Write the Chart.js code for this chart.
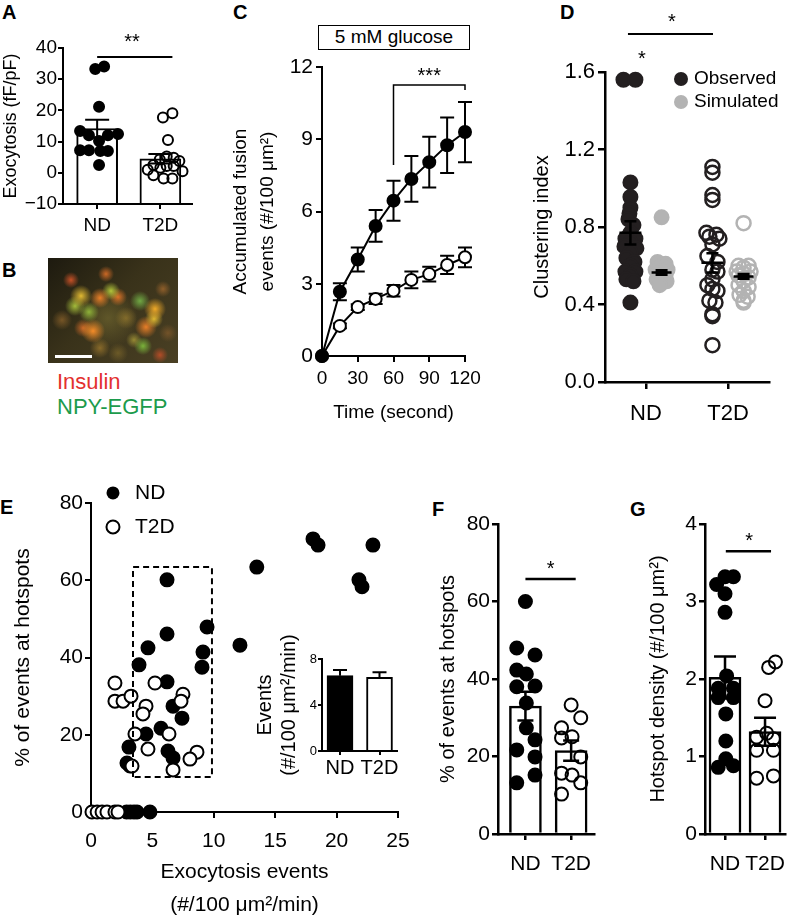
<!DOCTYPE html>
<html><head><meta charset="utf-8">
<script src="https://cdn.jsdelivr.net/npm/chart.js@4.4.1/dist/chart.umd.min.js"></script>
<style>
html,body{margin:0;padding:0;background:#fff;}
#fig{position:relative;width:799px;height:919px;overflow:hidden;font-family:'Liberation Sans',Arial,sans-serif;color:#000;background:#fff;}
#fig canvas{position:absolute;}
.pl{position:absolute;font-weight:bold;font-size:20px;line-height:20px;}
#micro{position:absolute;left:48px;top:258px;width:130px;height:105px;
background:
radial-gradient(circle at 23px 22px, rgba(215,85,40,.9) 0, rgba(215,85,40,0) 8px),
radial-gradient(circle at 58px 16px, rgba(230,115,40,.85) 0, rgba(230,115,40,0) 8px),
radial-gradient(circle at 33px 38px, rgba(225,185,50,1) 0, rgba(225,185,50,0) 11px),
radial-gradient(circle at 27px 48px, rgba(170,195,60,.95) 0, rgba(170,195,60,0) 10px),
radial-gradient(circle at 41px 54px, rgba(150,190,60,.9) 0, rgba(150,190,60,0) 10px),
radial-gradient(circle at 52px 40px, rgba(240,130,40,.95) 0, rgba(240,130,40,0) 10px),
radial-gradient(circle at 63px 33px, rgba(185,205,60,.95) 0, rgba(185,205,60,0) 9px),
radial-gradient(circle at 70px 39px, rgba(235,120,40,.9) 0, rgba(235,120,40,0) 9px),
radial-gradient(circle at 92px 43px, rgba(115,175,70,.95) 0, rgba(115,175,70,0) 10px),
radial-gradient(circle at 107px 51px, rgba(240,170,40,1) 0, rgba(240,170,40,0) 11px),
radial-gradient(circle at 106px 61px, rgba(230,190,50,.95) 0, rgba(230,190,50,0) 9px),
radial-gradient(circle at 98px 69px, rgba(240,130,40,.95) 0, rgba(240,130,40,0) 11px),
radial-gradient(circle at 45px 73px, rgba(245,140,40,1) 0, rgba(245,140,40,0) 12px),
radial-gradient(circle at 35px 70px, rgba(220,110,40,.85) 0, rgba(220,110,40,0) 9px),
radial-gradient(circle at 95px 88px, rgba(125,185,60,.95) 0, rgba(125,185,60,0) 9px),
radial-gradient(circle at 86px 82px, rgba(185,170,60,.7) 0, rgba(185,170,60,0) 8px),
radial-gradient(circle at 52px 90px, rgba(185,140,50,.6) 0, rgba(185,140,50,0) 10px),
radial-gradient(circle at 112px 97px, rgba(205,80,40,.8) 0, rgba(205,80,40,0) 8px),
radial-gradient(circle at 115px 31px, rgba(195,120,50,.6) 0, rgba(195,120,50,0) 8px),
radial-gradient(circle at 78px 60px, rgba(175,140,50,.55) 0, rgba(175,140,50,0) 11px),
radial-gradient(circle at 14px 62px, rgba(175,120,50,.55) 0, rgba(175,120,50,0) 10px),
radial-gradient(circle at 70px 95px, rgba(160,130,50,.45) 0, rgba(160,130,50,0) 10px),
radial-gradient(circle at 120px 75px, rgba(170,110,50,.45) 0, rgba(170,110,50,0) 9px),
radial-gradient(circle at 60px 60px, rgba(120,110,50,.6) 0, rgba(120,110,50,0) 30px),
linear-gradient(135deg, #1d1a0f 0%, #39321a 45%, #4a4024 100%);}
#scalebar{position:absolute;left:55px;top:355px;width:37px;height:3px;background:#fff;}
.btxt{position:absolute;left:57px;font-size:22px;line-height:22px;}
#gbox{position:absolute;left:318px;top:25px;width:152px;height:25px;box-sizing:border-box;border:1.5px solid #000;font-size:19px;line-height:22px;text-align:center;}
</style></head><body><div id="fig">
<div class="pl" style="left:2px;top:2px">A</div>
<div class="pl" style="left:2px;top:260px">B</div>
<div class="pl" style="left:233px;top:2px">C</div>
<div class="pl" style="left:560px;top:2px">D</div>
<div class="pl" style="left:0px;top:497px">E</div>
<div class="pl" style="left:432px;top:499px">F</div>
<div class="pl" style="left:630px;top:499px">G</div>
<div id="micro"></div>
<div id="scalebar"></div>
<div class="btxt" style="top:371px;color:#e3312f">Insulin</div>
<div class="btxt" style="top:396px;color:#1c9b4c">NPY-EGFP</div>
<div id="gbox">5 mM glucose</div>
</div>
<script>
// ================= DATA =================
const groupLabels = ['ND', 'T2D'];

// Panel A: exocytosis (fF/pF)
const exoTicks = [-10, 0, 10, 20, 30, 40];
const exoND = [33.3, 34.1, 21.2, 13.4, 12.4, 12.0, 12.0, 10.2, 7.2, 7.2, 7.0, 7.0, 2.5];
const exoNDJitter = [-0.03, 0.11, 0.03, -0.27, 0.33, -0.13, 0.17, 0.03, -0.27, -0.13, 0.05, 0.17, 0.03];
const exoT2D = [17.7, 19.1, 10.5, 4.3, 5.2, 4.8, 3.8, 2.5, 1.6, 2.2, 2.2, 0.5, -0.75, -1.8, -1.8, 1.0];
const exoT2DJitter = [0.04, 0.19, 0.12, -0.01, 0.1, 0.21, 0.3, -0.11, 0, 0.1, 0.21, 0.35, -0.11, 0.05, 0.19, -0.2];
const exoMean = [14.2, 4.5];
const exoSem = [2.8, 1.5];

// Panel C: accumulated fusion events
const timeTicks = [0, 30, 60, 90, 120];
const fusionTicks = [0, 3, 6, 9, 12];
const timeSec = [0, 15, 30, 45, 60, 75, 90, 105, 120];
const fusionND = [0, 2.67, 4.01, 5.4, 6.45, 7.35, 8.05, 8.75, 9.3];
const fusionNDSem = [0, 0.35, 0.5, 0.66, 0.83, 0.95, 1.05, 1.15, 1.25];
const fusionT2D = [0, 1.25, 2.03, 2.37, 2.71, 3.16, 3.4, 3.78, 4.1];
const fusionT2DSem = [0, 0.1, 0.12, 0.21, 0.24, 0.35, 0.31, 0.38, 0.41];

// Panel D: clustering index
const clusterTicks = [0, 0.4, 0.8, 1.2, 1.6];
const clObsND = [1.56, 1.56, 1.03, 0.955, 0.9, 0.87, 0.84, 0.81, 0.77, 0.74, 0.74, 0.72, 0.7, 0.69, 0.67, 0.64, 0.62, 0.6, 0.57, 0.57, 0.55, 0.53, 0.52, 0.41];
const clObsNDJitter = [-0.085, 0.061, 0, 0, 0, -0.012, -0.024, 0.037, 0, -0.061, 0.061, 0, -0.073, 0.073, 0, -0.049, 0.049, 0, -0.061, 0.061, 0, -0.049, 0.037, 0];
const clSimND = [0.85, 0.62, 0.61, 0.6, 0.58, 0.58, 0.57, 0.56, 0.55, 0.54, 0.53, 0.52, 0.51, 0.5];
const clSimNDJitter = [0, -0.049, 0.049, 0, -0.073, 0.073, 0, -0.049, 0.049, 0, -0.061, 0.061, 0, -0.024];
const clObsT2D = [1.11, 1.08, 0.965, 0.94, 0.77, 0.76, 0.75, 0.74, 0.71, 0.65, 0.62, 0.58, 0.57, 0.53, 0.5, 0.48, 0.47, 0.42, 0.41, 0.35, 0.34, 0.19];
const clObsT2DJitter = [0, 0, 0, 0, -0.073, 0.049, -0.037, 0.085, 0, -0.061, 0.061, 0, 0.061, 0, -0.061, 0, 0.061, -0.037, 0.037, 0, 0, 0];
const clSimT2D = [0.82, 0.6, 0.6, 0.59, 0.57, 0.57, 0.56, 0.55, 0.54, 0.52, 0.5, 0.49, 0.47, 0.45, 0.44, 0.42, 0.41];
const clSimT2DJitter = [0, -0.061, 0.061, 0, -0.085, 0.085, 0, -0.061, 0.061, 0, -0.061, 0.061, 0, -0.049, 0.049, 0, 0];
const clMeanObs = [0.77, 0.615];
const clSemObs = [0.06, 0.05];
const clMeanSim = [0.565, 0.545];
const clSemSim = [0.012, 0.012];

// Panel E: % events at hotspots vs exocytosis events
const eventTicks = [0, 5, 10, 15, 20, 25];
const pctTicks = [0, 20, 40, 60, 80];
const eventsND = [6.19, 13.5, 18.08, 18.49, 22.96, 21.82, 22.07, 12.13, 9.45, 9.12, 9.04, 6.19, 4.64, 3.91, 6.19, 6.68, 7.41, 5.7, 4.48, 3.09, 6.27, 6.68, 2.93, 3.18, 2.9, 3.2, 3.5, 3.75, 4.8];
const hotPctND = [60.1, 63.4, 70.7, 69.1, 69.1, 60.1, 58.3, 43.2, 47.9, 41.4, 37.5, 46.1, 42.5, 38.1, 33.7, 27.4, 24.3, 21.7, 20.2, 16.8, 15.8, 14.0, 12.7, 11.9, 0, 0, 0, 0, 0];
const eventsT2D = [1.95, 1.95, 2.61, 3.26, 5.21, 4.48, 4.23, 3.58, 4.64, 6.35, 7.49, 7.33, 6.68, 8.63, 8.06, 3.34, 0.08, 0.5, 0.9, 1.3, 1.95, 2.2];
const hotPctT2D = [33.4, 28.7, 28.7, 30.0, 33.4, 27.4, 25.4, 20.2, 16.3, 20.2, 30.5, 28.7, 10.9, 15.5, 13.7, 11.9, 0, 0, 0, 0, 0, 0];
// inset
const insetTicks = [0, 4, 8];
const insetMean = [6.55, 6.4];
const insetSem = [0.5, 0.45];

// Panel F: % of events at hotspots
const fND = [60, 48, 46.2, 42.3, 41.3, 38, 38.2, 33.8, 27.4, 24.3, 21.7, 19.9, 15.2, 13.2];
const fNDJitter = [0, -0.19, 0.21, -0.19, 0.02, -0.19, 0.21, 0.02, 0.02, 0.21, -0.19, 0.21, 0.21, -0.19];
const fT2D = [33.3, 27.4, 30, 24.8, 25.1, 19.9, 15.7, 15.2, 13.2, 10.3];
const fT2DJitter = [0, -0.21, 0.21, -0.21, 0.02, 0.21, -0.21, 0.02, 0.21, -0.21];
const fMean = [33.0, 21.5];
const fSem = [3.7, 2.6];

// Panel G: hotspot density
const densTicks = [0, 1, 2, 3, 4];
const gND = [3.22, 3.32, 3.32, 3.1, 2.86, 2.04, 1.88, 1.88, 1.76, 1.76, 1.55, 1.2, 0.86, 0.97, 0.88];
const gNDJitter = [-0.21, 0, 0.21, 0, 0, 0.04, -0.17, 0.21, -0.17, 0.21, 0.02, 0.02, -0.17, 0.02, 0.21];
const gT2D = [2.22, 2.15, 1.72, 1.3, 1.25, 1.23, 1.08, 1.08, 0.72, 0.75];
const gT2DJitter = [0.26, 0.09, 0, 0.04, -0.21, 0.21, -0.21, 0.21, -0.21, 0.21];
const gMean = [2.02, 1.32];
const gSem = [0.27, 0.18];

// ================= HELPERS =================
const FONT = "'Liberation Sans', Arial, sans-serif";
Chart.defaults.font.family = FONT;
Chart.defaults.color = '#000';
Chart.defaults.animation = false;
Chart.defaults.events = [];
Chart.defaults.plugins.legend.display = false;
Chart.defaults.plugins.tooltip.enabled = false;

const fig = document.getElementById('fig');
function addCanvas(box) {
  const c = document.createElement('canvas');
  c.width = box.w; c.height = box.h;
  c.style.left = box.x + 'px'; c.style.top = box.y + 'px';
  c.style.width = box.w + 'px'; c.style.height = box.h + 'px';
  fig.appendChild(c);
  return c;
}
const catFmt = (v, i) => groupLabels[i];
function axis(o) {
  return {
    type: 'linear', min: o.min, max: o.max, offset: false, bounds: 'data',
    afterFit: sc => { if (o.fitW != null) sc.width = o.fitW; if (o.fitH != null) sc.height = o.fitH; },
    afterBuildTicks: sc => { sc.ticks = o.ticks.map(v => ({ value: v })); },
    ticks: { font: { size: o.tickSize }, padding: o.tickPad, color: '#000', maxRotation: 0, minRotation: 0, autoSkip: false,
      callback: o.fmt || (v => String(v)) },
    grid: { offset: false, drawOnChartArea: false, drawTicks: true, tickLength: o.tickLen, tickWidth: o.lw, tickColor: '#000', color: '#000', lineWidth: o.lw },
    border: { display: true, color: '#000', width: o.lw },
    title: { display: !!o.title, text: o.title || '', color: '#000',
      font: { size: o.titleSize || 20, lineHeight: o.titleLH || 1.2 }, padding: o.titlePad || 0 }
  };
}
function decorPlugin(d) {
  const P = (ch, x, y) => [ch.scales.x.getPixelForValue(x), ch.scales.y.getPixelForValue(y)];
  function errors(ch) {
    const ctx = ch.ctx;
    (d.errors || []).forEach(e => {
      const [X, Ym] = P(ch, e.x, e.mean);
      const Yt = ch.scales.y.getPixelForValue(e.mean + e.sem);
      const Yb = ch.scales.y.getPixelForValue(e.mean - e.sem);
      ctx.save(); ctx.strokeStyle = e.color || '#000'; ctx.lineWidth = e.lw || 2; ctx.beginPath();
      if (e.sem > 0) {
        const y1 = e.down === false ? Ym : Yb, y2 = e.up === false ? Ym : Yt;
        ctx.moveTo(X, y1); ctx.lineTo(X, y2);
        if (e.up !== false) { ctx.moveTo(X - e.cap / 2, Yt); ctx.lineTo(X + e.cap / 2, Yt); }
        if (e.down !== false) { ctx.moveTo(X - e.cap / 2, Yb); ctx.lineTo(X + e.cap / 2, Yb); }
      }
      if (e.meanW) { ctx.moveTo(X - e.meanW / 2, Ym); ctx.lineTo(X + e.meanW / 2, Ym); }
      ctx.stroke(); ctx.restore();
    });
  }
  function rest(ch) {
    const ctx = ch.ctx;
    (d.lines || []).forEach(l => {
      ctx.save(); ctx.strokeStyle = '#000'; ctx.lineWidth = l.lw || 2; ctx.setLineDash(l.dash || []);
      ctx.beginPath();
      l.pts.forEach((p, i) => { const [a, b] = P(ch, p[0], p[1]); if (i) ctx.lineTo(a, b); else ctx.moveTo(a, b); });
      ctx.stroke(); ctx.restore();
    });
    (d.markers || []).forEach(m => {
      const [a, b] = P(ch, m.x, m.y);
      ctx.save(); ctx.beginPath(); ctx.arc(a, b, m.r, 0, Math.PI * 2);
      ctx.fillStyle = m.fill; ctx.fill();
      if (m.stroke) { ctx.strokeStyle = m.stroke; ctx.lineWidth = m.lw || 2; ctx.stroke(); }
      ctx.restore();
    });
    (d.texts || []).forEach(t => {
      const [a, b] = P(ch, t.x, t.y);
      ctx.save(); ctx.fillStyle = '#000'; ctx.font = (t.size || 20) + 'px ' + FONT;
      ctx.textAlign = t.align || 'center'; ctx.textBaseline = 'middle';
      ctx.fillText(t.text, a, b + (t.star ? 0.23 * (t.size || 20) : 0));
      ctx.restore();
    });
  }
  return {
    id: 'decor',
    beforeDatasetsDraw(ch) { if (d.errorsFirst) errors(ch); },
    afterDatasetsDraw(ch) { if (!d.errorsFirst) errors(ch); rest(ch); }
  };
}
function makeChart(box, area, xo, yo, datasets, deco, type) {
  const c = addCanvas(box);
  xo.fitH = box.y + box.h - area.B;
  yo.fitW = area.L - box.x;
  return new Chart(c, {
    type: type || 'scatter',
    data: { datasets },
    options: {
      responsive: false, maintainAspectRatio: false, animation: false,
      layout: { padding: { left: 0, top: area.T - box.y, right: box.x + box.w - area.R, bottom: 0 } },
      scales: { x: axis(xo), y: axis(yo) },
      plugins: { legend: { display: false }, tooltip: { enabled: false } }
    },
    plugins: [decorPlugin(deco)]
  });
}
function pts(vals, jit, base) { return vals.map((v, i) => ({ x: base + jit[i], y: v })); }
function scat(data, o) {
  return Object.assign({ type: 'scatter', data, showLine: false, clip: false, pointRadius: 6,
    pointBackgroundColor: '#000', pointBorderColor: '#000', pointBorderWidth: 2 }, o);
}
function bars(means, o) {
  return Object.assign({ type: 'bar', data: means.map((m, i) => ({ x: i + 1, y: m })), clip: false,
    backgroundColor: '#fff', borderColor: '#000', borderWidth: 2, grouped: false, order: 10 }, o);
}
const minusFmt = v => String(v).replace('-', '\u2212');
const OPEN = 'rgba(0,0,0,0)';

// ================= PANEL A =================
makeChart({ x: 0, y: 25, w: 200, h: 230 }, { L: 63, T: 48, R: 192, B: 204 },
  { min: 0.46, max: 2.5, ticks: [1, 2], fmt: catFmt, tickSize: 19, tickPad: 5, tickLen: 5, lw: 2 },
  { min: -10, max: 40, ticks: exoTicks, fmt: minusFmt, tickSize: 19, tickPad: 1, tickLen: 5, lw: 2,
    title: 'Exocytosis (fF/pF)', titleSize: 18, titlePad: { top: 0, bottom: 0 } },
  [
    scat(pts(exoND, exoNDJitter, 1), { pointRadius: 5, order: 1 }),
    scat(pts(exoT2D, exoT2DJitter, 2), { pointRadius: 5, pointBackgroundColor: OPEN, order: 2 }),
    bars(exoMean, { barThickness: 41, base: -10 })
  ],
  {
    errors: exoMean.map((m, i) => ({ x: i + 1, mean: m, sem: exoSem[i], cap: 24, lw: 2 })),
    lines: [{ pts: [[1, 37.1], [2.19, 37.1]], lw: 2 }],
    texts: [{ x: 1.55, y: 43.2, text: '**', size: 20, star: true }]
  }, 'bar');

// ================= PANEL C =================
makeChart({ x: 195, y: 50, w: 300, h: 375 }, { L: 322, T: 67, R: 465, B: 356 },
  { min: 0, max: 120, ticks: timeTicks, tickSize: 19, tickPad: 5, tickLen: 6, lw: 2,
    title: 'Time (second)', titleSize: 19, titlePad: { top: 0, bottom: 1 } },
  { min: 0, max: 12, ticks: fusionTicks, tickSize: 21, tickPad: 3, tickLen: 6, lw: 2,
    title: ['Accumulated fusion', 'events (#/100 \u03bcm\u00b2)'], titleSize: 19, titleLH: '27px', titlePad: { top: 32, bottom: 0 } },
  [
    scat(timeSec.map((t, i) => ({ x: t, y: fusionND[i] })), { showLine: true, borderColor: '#000', borderWidth: 2, order: 1 }),
    scat(timeSec.map((t, i) => ({ x: t, y: fusionT2D[i] })), { showLine: true, borderColor: '#000', borderWidth: 2, pointBackgroundColor: '#fff', order: 2 })
  ],
  {
    errorsFirst: true,
    errors: timeSec.map((t, i) => ({ x: t, mean: fusionND[i], sem: fusionNDSem[i], cap: 14, lw: 2 }))
      .concat(timeSec.map((t, i) => ({ x: t, mean: fusionT2D[i], sem: fusionT2DSem[i], cap: 14, lw: 2 }))),
    lines: [{ pts: [[60, 7.93], [60, 11.25], [120, 11.25], [120, 11.05]], lw: 1.5 }],
    texts: [{ x: 90, y: 11.8, text: '***', size: 20, star: true }]
  });

// ================= PANEL D =================
const DARK = '#231f20', GREY = '#b3b3b3';
makeChart({ x: 500, y: 0, w: 299, h: 430 }, { L: 605, T: 72, R: 769, B: 382 },
  { min: 0.5, max: 2.5, ticks: [1, 2], fmt: catFmt, tickSize: 22, tickPad: 12, tickLen: 7, lw: 2.5 },
  { min: 0, max: 1.6, ticks: clusterTicks, fmt: v => v.toFixed(1), tickSize: 22, tickPad: 3, tickLen: 7, lw: 2.5,
    title: 'Clustering index', titleSize: 20, titlePad: { top: 30, bottom: 0 } },
  [
    scat(pts(clObsND, clObsNDJitter, 0.81), { pointRadius: 7, pointBackgroundColor: DARK, pointBorderColor: DARK, order: 1 }),
    scat(pts(clSimND, clSimNDJitter, 1.19), { pointRadius: 7, pointBackgroundColor: GREY, pointBorderColor: GREY, order: 2 }),
    scat(pts(clObsT2D, clObsT2DJitter, 1.81), { pointRadius: 7, pointBackgroundColor: OPEN, pointBorderColor: DARK, pointBorderWidth: 2.5, order: 3 }),
    scat(pts(clSimT2D, clSimT2DJitter, 2.19), { pointRadius: 7, pointBackgroundColor: OPEN, pointBorderColor: GREY, pointBorderWidth: 2.5, order: 4 })
  ],
  {
    errors: [
      { x: 0.81, mean: clMeanObs[0], sem: clSemObs[0], cap: 12, meanW: 22, lw: 2.5 },
      { x: 1.19, mean: clMeanSim[0], sem: clSemSim[0], cap: 12, meanW: 20, lw: 2.5 },
      { x: 1.81, mean: clMeanObs[1], sem: clSemObs[1], cap: 12, meanW: 22, lw: 2.5 },
      { x: 2.19, mean: clMeanSim[1], sem: clSemSim[1], cap: 12, meanW: 20, lw: 2.5 }
    ],
    lines: [{ pts: [[0.78, 1.796], [1.817, 1.796]], lw: 2 }],
    markers: [{ x: 1.427, y: 1.564, r: 7, fill: DARK }, { x: 1.427, y: 1.445, r: 7, fill: GREY }],
    texts: [
      { x: 1.317, y: 1.879, text: '*', size: 20, star: true },
      { x: 0.951, y: 1.688, text: '*', size: 20, star: true },
      { x: 1.585, y: 1.564, text: 'Observed', size: 19, align: 'left' },
      { x: 1.585, y: 1.445, text: 'Simulated', size: 19, align: 'left' }
    ]
  });

// ================= PANEL E =================
makeChart({ x: 0, y: 470, w: 430, h: 452 }, { L: 91, T: 503, R: 398, B: 812 },
  { min: 0, max: 25, ticks: eventTicks, tickSize: 21, tickPad: 11, tickLen: 6, lw: 2,
    title: ['Exocytosis events', '(#/100 \u03bcm\u00b2/min)'], titleSize: 21, titleLH: '33px', titlePad: { top: 0, bottom: 0 } },
  { min: 0, max: 80, ticks: pctTicks, tickSize: 21, tickPad: 2, tickLen: 6, lw: 2,
    title: '% of events at hotspots', titleSize: 21, titlePad: { top: 11, bottom: 0 } },
  [
    scat(eventsT2D.map((v, i) => ({ x: v, y: hotPctT2D[i] })), { pointRadius: 6.5, pointBackgroundColor: '#fff', order: 1 }),
    scat(eventsND.map((v, i) => ({ x: v, y: hotPctND[i] })), { pointRadius: 6.5, order: 2 })
  ],
  {
    lines: [{ pts: [[3.42, 9.06], [3.42, 63.4], [9.85, 63.4], [9.85, 9.06], [3.42, 9.06]], lw: 2, dash: [6, 4] }],
    markers: [{ x: 1.79, y: 82.6, r: 6.5, fill: '#000' }, { x: 1.79, y: 73.8, r: 6.5, fill: '#fff', stroke: '#000', lw: 2 }],
    texts: [{ x: 3.58, y: 82.6, text: 'ND', size: 21, align: 'left' }, { x: 3.58, y: 73.8, text: 'T2D', size: 21, align: 'left' }]
  });

// E inset
makeChart({ x: 240, y: 625, w: 170, h: 160 }, { L: 322, T: 659, R: 397, B: 751 },
  { min: 0.544, max: 2.443, ticks: [1, 2], fmt: catFmt, tickSize: 20, tickPad: 1, tickLen: 4, lw: 2 },
  { min: 0, max: 8, ticks: insetTicks, tickSize: 13, tickPad: 1, tickLen: 4, lw: 2,
    title: ['Events', '(#/100 \u03bcm\u00b2/min)'], titleSize: 20, titleLH: '24px', titlePad: { top: 13, bottom: 0 } },
  [bars(insetMean, { barThickness: 26, backgroundColor: ['#000', '#fff'] })],
  { errors: insetMean.map((m, i) => ({ x: i + 1, mean: m, sem: insetSem[i], cap: 14, lw: 2, down: false })) },
  'bar');

// ================= PANEL F =================
makeChart({ x: 430, y: 470, w: 175, h: 449 }, { L: 498, T: 524, R: 597, B: 834 },
  { min: 0.4, max: 2.5, ticks: [1, 2], fmt: catFmt, tickSize: 21, tickPad: 12, tickLen: 6, lw: 2.5 },
  { min: 0, max: 80, ticks: pctTicks, tickSize: 21, tickPad: 2, tickLen: 6, lw: 2.5,
    title: '% of events at hotspots', titleSize: 20, titlePad: { top: 6, bottom: 0 } },
  [
    scat(pts(fND, fNDJitter, 1), { pointRadius: 6.5, order: 1 }),
    scat(pts(fT2D, fT2DJitter, 2), { pointRadius: 6.5, pointBackgroundColor: OPEN, order: 2 }),
    bars(fMean, { barThickness: 32, borderWidth: 2.5 })
  ],
  {
    errors: fMean.map((m, i) => ({ x: i + 1, mean: m, sem: fSem[i], cap: 16, lw: 2.5 })),
    lines: [{ pts: [[1, 65.8], [2.1, 65.8]], lw: 2.5 }],
    texts: [{ x: 1.55, y: 69.4, text: '*', size: 20, star: true }]
  }, 'bar');

// ================= PANEL G =================
makeChart({ x: 605, y: 470, w: 194, h: 449 }, { L: 705, T: 524, R: 799, B: 834 },
  { min: 0.5, max: 2.5, ticks: [1, 2], fmt: catFmt, tickSize: 21, tickPad: 12, tickLen: 6, lw: 2.5 },
  { min: 0, max: 4, ticks: densTicks, tickSize: 21, tickPad: 2, tickLen: 6, lw: 2.5,
    title: 'Hotspot density (#/100 \u03bcm\u00b2)', titleSize: 20, titlePad: { top: 41, bottom: 0 } },
  [
    scat(pts(gND, gNDJitter, 1), { pointRadius: 6.5, order: 1 }),
    scat(pts(gT2D, gT2DJitter, 2), { pointRadius: 6.5, pointBackgroundColor: OPEN, order: 2 }),
    bars(gMean, { barThickness: 32, borderWidth: 2.5 })
  ],
  {
    errors: gMean.map((m, i) => ({ x: i + 1, mean: m, sem: gSem[i], cap: 22, lw: 2.5 })),
    lines: [{ pts: [[1.02, 3.65], [2.15, 3.65]], lw: 2.5 }],
    texts: [{ x: 1.6, y: 3.83, text: '*', size: 20, star: true }]
  }, 'bar');
</script>
</body></html>
